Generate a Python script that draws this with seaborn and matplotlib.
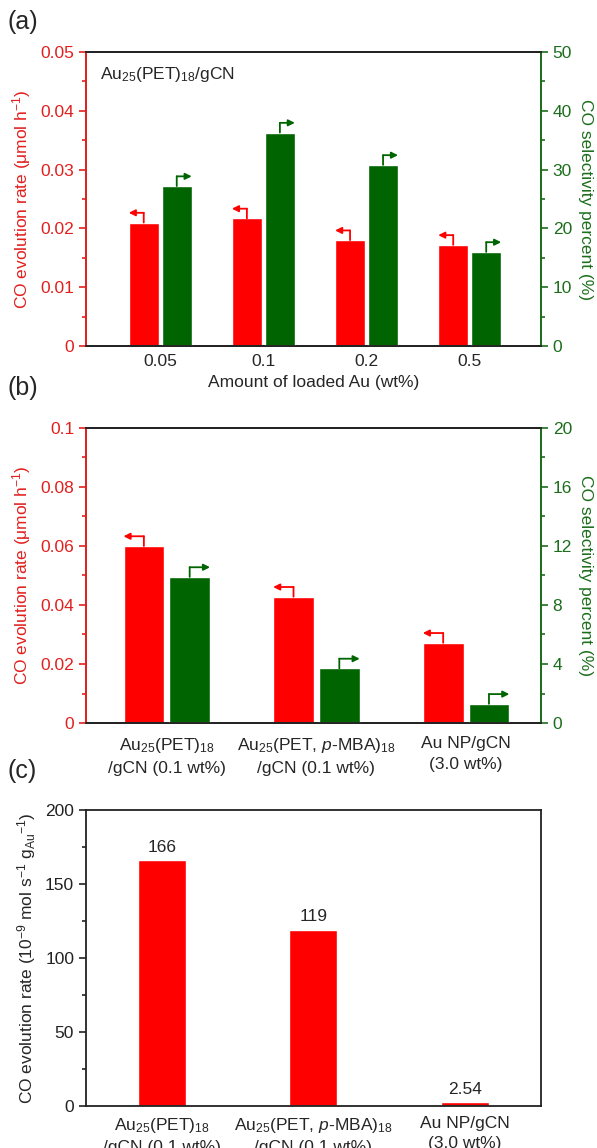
import pandas as pd
import seaborn as sns
import matplotlib.pyplot as plt
from matplotlib.transforms import ScaledTranslation
from matplotlib.ticker import MultipleLocator, FuncFormatter

# panel (a)
loads = ['0.05', '0.1', '0.2', '0.5']
rate_a = [0.0210, 0.0217, 0.0180, 0.0172]
sel_a = [27.2, 36.3, 30.8, 16.0]

# panel (b)
samples = ['Au$_{25}$(PET)$_{18}$\n/gCN (0.1 wt%)',
           'Au$_{25}$(PET, $\\mathit{p}$-MBA)$_{18}$\n/gCN (0.1 wt%)',
           'Au NP/gCN\n(3.0 wt%)']
rate_b = [0.0600, 0.0428, 0.0272]
sel_b = [9.9, 3.7, 1.3]

# panel (c)
rate_c = [166, 119, 2.54]
rate_c_txt = ['166', '119', '2.54']

RED = '#FF0000'
RED_T = '#E0201E'
GREEN = '#006400'
GREEN_T = '#1C6E1C'
FS = 12.5

sns.set_style('ticks')
plt.rcParams['font.family'] = ['Liberation Sans', 'DejaVu Sans']
plt.rcParams['mathtext.fontset'] = 'custom'
plt.rcParams['mathtext.rm'] = 'Liberation Sans'
plt.rcParams['mathtext.it'] = 'Liberation Sans:italic'
plt.rcParams['font.size'] = FS
plt.rcParams['axes.linewidth'] = 1.3

fig = plt.figure(figsize=(5.97, 11.48), dpi=100)
fmt = FuncFormatter(lambda v, p: '%g' % round(v, 6))


def tidy(ax, color, side):
    ax.tick_params(axis='y', which='major', direction='out', length=5, width=1.2,
                   colors=color, labelsize=FS)
    ax.tick_params(axis='y', which='minor', direction='out', length=3, width=1.2,
                   colors=color)
    ax.tick_params(axis='x', length=0, labelsize=FS, pad=6)
    ax.spines[side].set_color(color)


def arrows(ax, xs, ys, half, left):
    up = ScaledTranslation(0, 7 / 72, fig.dpi_scale_trans)
    trans = ax.transData + up
    col = RED if left else GREEN
    for x, y in zip(xs, ys):
        ax.annotate('', xy=(x, y), xycoords='data', xytext=(x, y), textcoords=trans,
                    arrowprops=dict(arrowstyle='-', color=col, lw=1.3,
                                    shrinkA=0, shrinkB=0))
        x2 = x - half if left else x + half
        ax.annotate('', xy=(x2, y), xycoords=trans, xytext=(x, y), textcoords=trans,
                    arrowprops=dict(arrowstyle='-|>,head_length=0.3,head_width=0.15',
                                    color=col, lw=1.3, shrinkA=0, shrinkB=0))


def twin_panel(rect, cats, rate, sel, ylim1, ylim2, step1, step2, width, gap, xlim):
    n = len(cats)
    df = pd.DataFrame({'cat': cats * 2,
                       'series': ['rate'] * n + ['sel'] * n,
                       'rate': rate + [float('nan')] * n,
                       'sel': [float('nan')] * n + sel})
    ax = fig.add_axes(rect)
    ax2 = ax.twinx()
    sns.barplot(data=df, x='cat', y='rate', hue='series', hue_order=['rate', 'sel'],
                palette={'rate': RED, 'sel': GREEN}, width=width, gap=gap,
                errorbar=None, legend=False, saturation=1, ax=ax)
    sns.barplot(data=df, x='cat', y='sel', hue='series', hue_order=['rate', 'sel'],
                palette={'rate': RED, 'sel': GREEN}, width=width, gap=gap,
                errorbar=None, legend=False, saturation=1, ax=ax2)
    ax.set_ylim(*ylim1)
    ax2.set_ylim(*ylim2)
    ax.yaxis.set_major_locator(MultipleLocator(step1))
    ax.yaxis.set_minor_locator(MultipleLocator(step1 / 2))
    ax.yaxis.set_major_formatter(fmt)
    ax2.yaxis.set_major_locator(MultipleLocator(step2))
    ax2.yaxis.set_minor_locator(MultipleLocator(step2 / 2))
    ax.set_xlabel('')
    ax2.set_xlabel('')
    for a in (ax, ax2):
        for s in ('left', 'right', 'top', 'bottom'):
            a.spines[s].set_visible(True)
            a.spines[s].set_color('#222222')
        a.spines['left'].set_color(RED_T)
        a.spines['right'].set_color(GREEN_T)
    tidy(ax, RED_T, 'left')
    tidy(ax2, GREEN_T, 'right')
    ax.set_ylabel('CO evolution rate (μmol h$^{-1}$)', color=RED_T, fontsize=FS, labelpad=5)
    ax2.set_ylabel('CO selectivity percent (%)', color=GREEN_T, fontsize=FS,
                   rotation=270, labelpad=15)
    slot = width / 2
    bw = slot * (1 - gap)
    xs = range(n)
    arrows(ax, [i - slot / 2 for i in xs], rate, bw / 2, True)
    arrows(ax2, [i + slot / 2 for i in xs], sel, bw / 2, False)
    ax.set_xlim(*xlim)
    return ax, ax2


# (a)
axa, axa2 = twin_panel([0.144, 0.6986, 0.762, 0.2561], loads, rate_a, sel_a,
                       (0, 0.05), (0, 50), 0.01, 10, 0.64, 0.094, (-0.72, 3.69))
axa.set_xlabel('Amount of loaded Au (wt%)', fontsize=FS, labelpad=4)
axa.text(0.03, 0.955, 'Au$_{25}$(PET)$_{18}$/gCN', transform=axa.transAxes,
         fontsize=FS, va='top', ha='left')

# (b)
axb, axb2 = twin_panel([0.144, 0.3702, 0.762, 0.2570], samples, rate_b, sel_b,
                       (0, 0.1), (0, 20), 0.02, 4, 0.612, 0.11, (-0.54, 2.5))
axb.set_xticks(range(len(samples)), samples, linespacing=1.55)
axb.tick_params(axis='x', pad=9)

# (c)
axc = fig.add_axes([0.144, 0.0366, 0.762, 0.2578])
dfc = pd.DataFrame({'cat': samples, 'rate': rate_c})
sns.barplot(data=dfc, x='cat', y='rate', color=RED, saturation=1, width=0.316,
            errorbar=None, ax=axc)
axc.set_ylim(0, 200)
axc.set_xlim(-0.5, 2.5)
axc.yaxis.set_major_locator(MultipleLocator(50))
axc.yaxis.set_minor_locator(MultipleLocator(25))
for s in ('left', 'right', 'top', 'bottom'):
    axc.spines[s].set_visible(True)
    axc.spines[s].set_color('#222222')
axc.tick_params(axis='y', which='major', direction='out', length=5, width=1.2,
                colors='#222222', labelsize=FS)
axc.tick_params(axis='y', which='minor', direction='out', length=3, width=1.2,
                colors='#222222')
axc.tick_params(axis='x', length=0, labelsize=FS, pad=7)
axc.set_xticks(range(len(samples)), samples, linespacing=1.4)
axc.set_xlabel('')
axc.set_ylabel('CO evolution rate (10$^{-9}$ mol s$^{-1}$ g$_{\\mathrm{Au}}$$^{-1}$)',
               fontsize=FS, labelpad=5)
for i, (v, t) in enumerate(zip(rate_c, rate_c_txt)):
    axc.annotate(t, xy=(i, v), xytext=(0, 4), textcoords='offset points',
                 ha='center', va='bottom', fontsize=FS)

# panel letters
for lab, y in (('(a)', 0.981), ('(b)', 0.662), ('(c)', 0.328)):
    fig.text(0.012, y, lab, fontsize=18, va='center', ha='left')

fig.savefig('out.png', dpi=100)
